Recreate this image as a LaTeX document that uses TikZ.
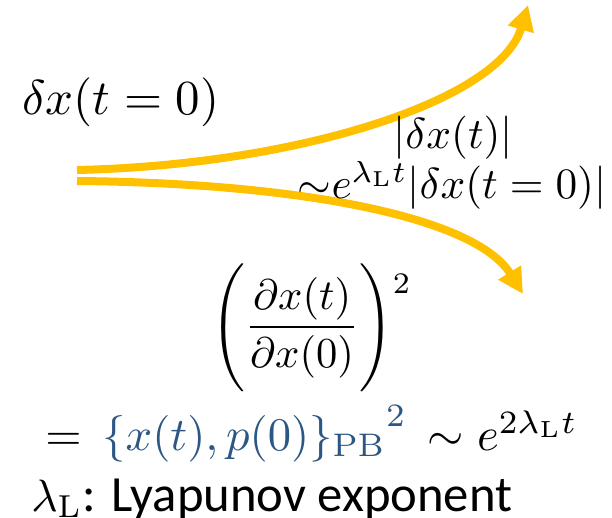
\documentclass[tikz,border=0pt]{standalone}
\usepackage{amsmath}
\usepackage{graphicx}
\usepackage{fontspec}
\newfontfamily\carlito{Carlito}
\usetikzlibrary{arrows.meta}
\definecolor{gold}{RGB}{255,192,0}
\definecolor{pbblue}{RGB}{44,86,132}
\newcommand{\scmath}[2]{\scalebox{#1}{$#2$}}
\begin{document}
\begin{tikzpicture}[x=0.75pt,y=-0.75pt,
  flow/.style={draw=gold, line width=6pt, -{Triangle[length=19pt,width=19pt]}},
  mlabel/.style={inner sep=0pt}]
\useasboundingbox (0,0) rectangle (612,518);
\coordinate (s1) at (77,170);
\coordinate (e1) at (528,5);
\coordinate (s2) at (77,181);
\coordinate (e2) at (523,294);
\draw[flow] (s1) .. controls (300,165) and (500,100) .. (e1);
\draw[flow] (s2) .. controls (300,183) and (475,217) .. (e2);
\node[mlabel, anchor=base west] (d0) at (22,114) {\scmath{3.67}{\delta x(t=0)}};
\node[mlabel, anchor=base] (dt) at (453,148) {\scmath{3.25}{|\delta x(t)|}};
\node[mlabel, anchor=base] (grow) at (452,198) {\scmath{3.25}{{\sim}e^{\lambda_{\mathrm{L}}t}|\delta x(t=0)|}};
\node[mlabel, anchor=base west] (frac) at (211,338)
  {\scmath{3.2}{\left(\vcenter{\hbox{\rule{0pt}{33pt}}}\dfrac{\partial x(t)}{\partial x(0)}\right)^{\raisebox{-6pt}{$\scriptstyle 2$}}}};
\node[mlabel, anchor=base west] (pb) at (45,450)
  {\scmath{3.5}{=\,\textcolor{pbblue}{{\{x(t),p(0)\}_{\mathrm{PB}}}^{2}}\,\sim e^{2\lambda_{\mathrm{L}}t}}};
\node[inner sep=0pt, anchor=base west] (ly) at (31,511)
  {\scmath{3.4}{\lambda_{\mathrm{L}}}\carlito\fontsize{38}{44}\selectfont: Lyapunov exponent};
\end{tikzpicture}
\end{document}
